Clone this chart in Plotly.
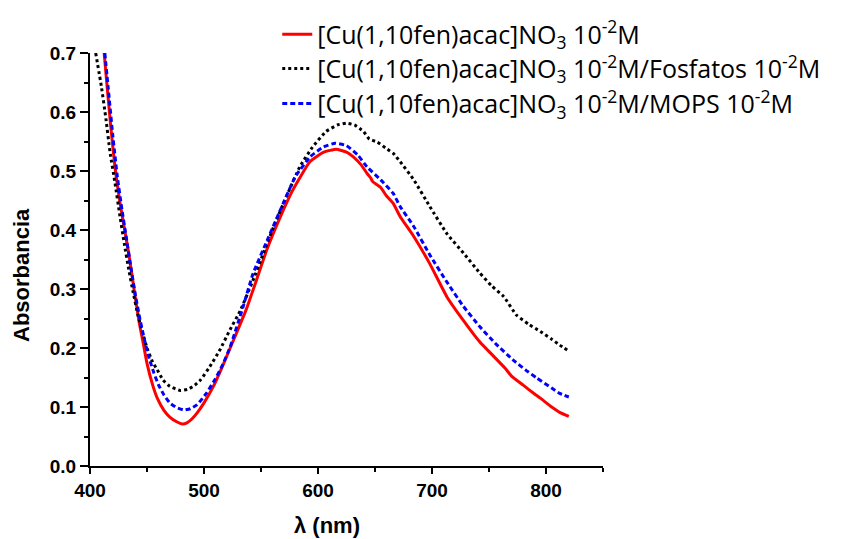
import plotly.graph_objects as go

# Wavelengths (nm) and absorbance values for each series
wl_red = [410, 412, 414, 418, 422, 426, 430, 434, 439, 443, 447, 450, 455, 459, 465, 470, 476, 481, 485, 490, 494, 500, 508, 516, 526, 537, 546, 555, 566, 578, 593, 605, 616, 625, 631, 638, 643, 646, 648, 655, 660, 666, 672, 684, 698, 713, 727, 742, 752, 764, 770, 780, 790, 795, 805, 812, 820]
abs_red = [0.75, 0.71, 0.665, 0.58, 0.505, 0.45, 0.405, 0.36, 0.295, 0.245, 0.205, 0.174, 0.137, 0.115, 0.094, 0.083, 0.075, 0.071, 0.073, 0.081, 0.09, 0.107, 0.134, 0.168, 0.214, 0.265, 0.315, 0.366, 0.418, 0.468, 0.516, 0.532, 0.537, 0.532, 0.524, 0.51, 0.496, 0.489, 0.482, 0.472, 0.458, 0.445, 0.423, 0.389, 0.343, 0.287, 0.248, 0.210, 0.19, 0.166, 0.152, 0.137, 0.122, 0.115, 0.100, 0.091, 0.084]

wl_black = [405, 410, 414, 417.5, 422, 426, 430, 434, 438, 442, 446, 450, 455, 459, 464, 470, 479, 486, 492, 497, 505, 514, 522, 532, 542, 552, 562, 573, 584, 595, 607, 617, 625, 632, 638, 640, 645, 652, 660, 666, 672, 684, 698, 713, 728, 742, 752, 763, 774, 785, 795, 805, 812, 820]
abs_black = [0.70, 0.643, 0.588, 0.533, 0.479, 0.427, 0.378, 0.333, 0.293, 0.256, 0.227, 0.20, 0.176, 0.163, 0.146, 0.135, 0.128, 0.130, 0.137, 0.146, 0.168, 0.197, 0.228, 0.264, 0.31, 0.36, 0.41, 0.46, 0.507, 0.54, 0.567, 0.578, 0.581, 0.578, 0.57, 0.567, 0.554, 0.549, 0.538, 0.530, 0.516, 0.485, 0.44, 0.394, 0.36, 0.327, 0.306, 0.287, 0.256, 0.24, 0.228, 0.215, 0.205, 0.195]

wl_blue = [413, 416, 420, 424, 428, 432, 436, 440, 444, 448, 452, 456, 460, 465, 470, 476, 482, 488, 494, 502, 510, 516, 523, 534, 543, 556, 567, 580, 593, 605, 615, 625, 635, 643, 655, 666, 672, 684, 698, 713, 727, 742, 756, 771, 782, 792, 805, 812, 820]
abs_blue = [0.70, 0.64, 0.56, 0.49, 0.435, 0.385, 0.335, 0.288, 0.247, 0.212, 0.182, 0.158, 0.138, 0.12, 0.107, 0.099, 0.095, 0.097, 0.104, 0.123, 0.148, 0.17, 0.202, 0.268, 0.326, 0.385, 0.434, 0.49, 0.524, 0.541, 0.547, 0.543, 0.527, 0.507, 0.485, 0.462, 0.44, 0.406, 0.358, 0.312, 0.272, 0.236, 0.207, 0.180, 0.163, 0.149, 0.132, 0.123, 0.117]

x_ticks = [400, 500, 600, 700, 800]
y_ticks = [0.0, 0.1, 0.2, 0.3, 0.4, 0.5, 0.6, 0.7]

names = [
    "[Cu(1,10fen)acac]NO<sub>3</sub> 10<sup>-2</sup>M",
    "[Cu(1,10fen)acac]NO<sub>3</sub> 10<sup>-2</sup>M/Fosfatos 10<sup>-2</sup>M",
    "[Cu(1,10fen)acac]NO<sub>3</sub> 10<sup>-2</sup>M/MOPS 10<sup>-2</sup>M",
]
x_title = "λ (nm)"
y_title = "Absorbancia"

fig = go.Figure()
fig.add_trace(go.Scatter(x=wl_red, y=abs_red, mode="lines", name=names[0], legend="legend",
                         line=dict(color="#ff0000", width=3, shape="spline", smoothing=0.4)))
fig.add_trace(go.Scatter(x=wl_black, y=abs_black, mode="lines", name=names[1], legend="legend2",
                         line=dict(color="#000000", width=3, dash="3px,3px", shape="spline", smoothing=0.4)))
fig.add_trace(go.Scatter(x=wl_blue, y=abs_blue, mode="lines", name=names[2], legend="legend3",
                         line=dict(color="#0000ff", width=3, dash="5px,3px", shape="spline", smoothing=0.4)))

tick_font = dict(family="Arial, Liberation Sans", size=19, color="black", weight="bold")
title_font = dict(family="Arial, Liberation Sans", size=22, color="black", weight="bold")
leg_font = dict(family="Open Sans", size=25, color="black")

def leg(y):
    return dict(x=0.365, y=y, xanchor="left", yanchor="middle", font=leg_font,
                bgcolor="rgba(0,0,0,0)", itemwidth=30)

# page body adds an 8px offset; margins compensate so the plot area lands at x 90-603, y 53-466
fig.update_layout(
    width=847, height=539,
    margin=dict(l=82, r=252, t=45, b=81, autoexpand=False),
    paper_bgcolor="white", plot_bgcolor="white",
    showlegend=True,
    legend=leg(1.045), legend2=leg(0.962), legend3=leg(0.877),
    xaxis=dict(range=[400, 850], tickvals=x_ticks, ticktext=[f"<b>{v}</b>" for v in x_ticks],
               ticks="outside", ticklen=6, tickwidth=2, tickcolor="black",
               minor=dict(dtick=50, ticks="outside", ticklen=4, tickwidth=2, tickcolor="black"),
               showline=True, linecolor="black", linewidth=2, showgrid=False, zeroline=False,
               tickfont=tick_font, automargin=False),
    yaxis=dict(range=[0, 0.7], tickvals=y_ticks, ticktext=[f"<b>{v:.1f}</b>" for v in y_ticks],
               ticks="outside", ticklen=8, tickwidth=2, tickcolor="black",
               minor=dict(dtick=0.05, ticks="outside", ticklen=4, tickwidth=2, tickcolor="black"),
               showline=True, linecolor="black", linewidth=2, showgrid=False, zeroline=False,
               tickfont=tick_font, automargin=False),
    annotations=[
        dict(text=f"<b>{x_title}</b>", xref="paper", yref="paper", x=0.462, y=-0.143,
             xanchor="center", yanchor="middle", showarrow=False, font=title_font),
        dict(text=f"<b>{y_title}</b>", xref="paper", yref="paper", x=-0.1326, y=0.4625,
             xanchor="center", yanchor="middle", textangle=-90, showarrow=False, font=title_font),
    ],
)

fig.write_html("out.html")
